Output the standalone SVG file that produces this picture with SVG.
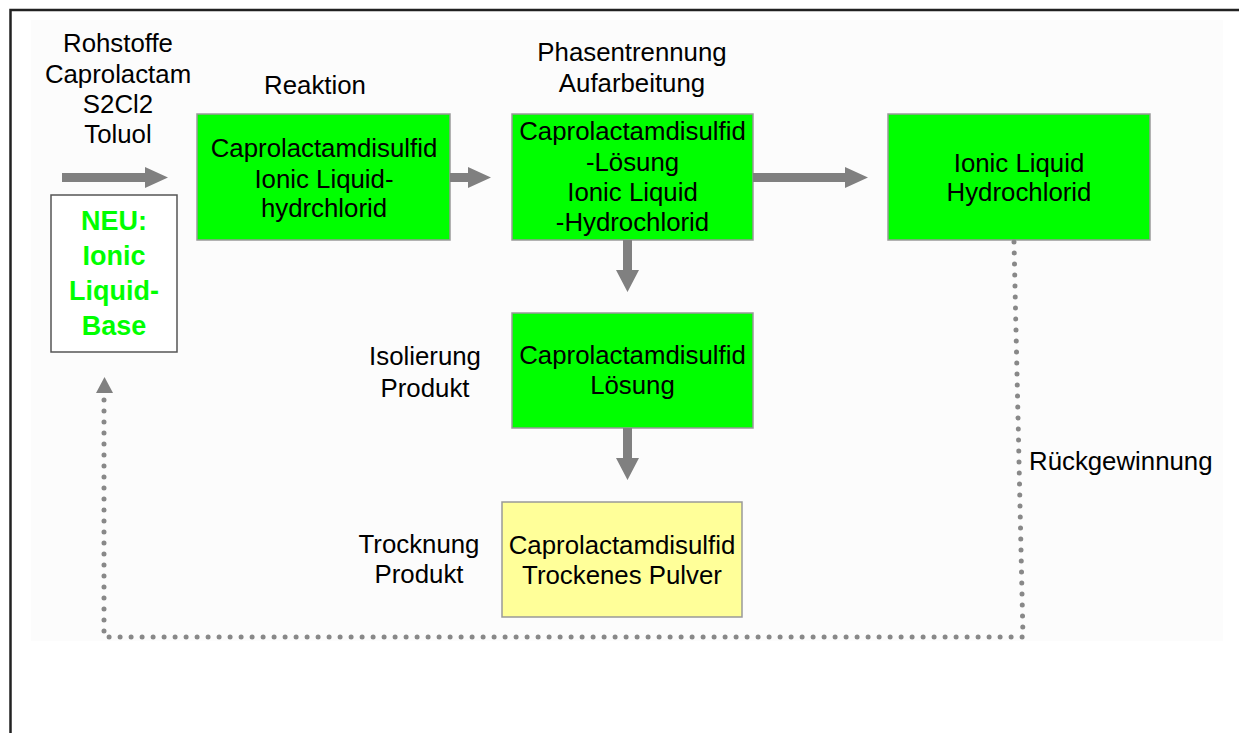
<svg xmlns="http://www.w3.org/2000/svg" width="1239" height="733" viewBox="0 0 1239 733">
<defs>
<style>
.t{font-family:"Liberation Sans",Arial,sans-serif;font-size:25.8px;fill:#000;text-anchor:middle}
.l{font-family:"Liberation Sans",Arial,sans-serif;font-size:25.8px;fill:#000}
.neu{font-family:"Liberation Sans",Arial,sans-serif;font-size:27px;font-weight:bold;fill:#00FF00;text-anchor:middle}
.g{fill:#00FF00;stroke:#999;stroke-width:1.5}
.y{fill:#FFFF99;stroke:#999;stroke-width:1.5}
.arr{fill:#808080}
.dot{fill:none;stroke:#888;stroke-width:5;stroke-linecap:round;stroke-dasharray:0 11}
</style>
</defs>
<rect x="0" y="0" width="1239" height="733" fill="#fff"/>
<rect x="31" y="20" width="1192" height="621" fill="#FCFCFC"/>
<path d="M10.5,733 V10 H1239" fill="none" stroke="#222" stroke-width="2.5"/>

<g id="labels">
<text class="t" x="118" y="52">Rohstoffe</text>
<text class="t" x="118" y="83">Caprolactam</text>
<text class="t" x="118" y="113">S2Cl2</text>
<text class="t" x="118" y="143">Toluol</text>
<text class="t" x="315" y="94">Reaktion</text>
<text class="t" x="632" y="61">Phasentrennung</text>
<text class="t" x="632" y="92">Aufarbeitung</text>
<text class="t" x="425" y="365">Isolierung</text>
<text class="t" x="425" y="397">Produkt</text>
<text class="t" x="419" y="553">Trocknung</text>
<text class="t" x="419" y="583">Produkt</text>
<text class="l" x="1029" y="470">Rückgewinnung</text>
</g>

<g id="node-neu">
<rect x="51" y="195" width="126" height="157" fill="#fff" stroke="#555" stroke-width="1.5"/>
<text class="neu" x="114" y="230">NEU:</text>
<text class="neu" x="114" y="265">Ionic</text>
<text class="neu" x="114" y="300">Liquid-</text>
<text class="neu" x="114" y="335">Base</text>
</g>

<g id="node-reaktion">
<rect class="g" x="197" y="114" width="253" height="126"/>
<text class="t" x="324" y="157">Caprolactamdisulfid</text>
<text class="t" x="324" y="188">Ionic Liquid-</text>
<text class="t" x="324" y="217">hydrchlorid</text>
</g>

<g id="node-phasentrennung">
<rect class="g" x="512" y="114" width="241" height="126"/>
<text class="t" x="632.5" y="140">Caprolactamdisulfid</text>
<text class="t" x="632.5" y="171">-Lösung</text>
<text class="t" x="632.5" y="201">Ionic Liquid</text>
<text class="t" x="632.5" y="231">-Hydrochlorid</text>
</g>

<g id="node-hydrochlorid">
<rect class="g" x="888" y="114" width="262" height="126"/>
<text class="t" x="1019" y="172">Ionic Liquid</text>
<text class="t" x="1019" y="201">Hydrochlorid</text>
</g>

<g id="node-isolierung">
<rect class="g" x="512" y="313" width="241" height="115"/>
<text class="t" x="632.5" y="364">Caprolactamdisulfid</text>
<text class="t" x="632.5" y="394">Lösung</text>
</g>

<g id="node-trocknung">
<rect class="y" x="502" y="502" width="240" height="115"/>
<text class="t" x="622" y="554">Caprolactamdisulfid</text>
<text class="t" x="622" y="584">Trockenes Pulver</text>
</g>

<g id="connectors">
<polygon class="arr" points="62,173 145,173 145,167 168,177.5 145,188 145,182 62,182"/>
<polygon class="arr" points="450,173 468,173 468,167 491,177.5 468,188 468,182 450,182"/>
<polygon class="arr" points="753,173 845,173 845,167 868,177.5 845,188 845,182 753,182"/>
<polygon class="arr" points="623,240 632,240 632,270 639,270 627.5,292 616,270 623,270"/>
<polygon class="arr" points="623,428 632,428 632,458 639,458 627.5,480 616,458 623,458"/>
<path class="dot" d="M1014,242 L1023,637 L104,637 L104,398"/>
<polygon class="arr" points="104.5,377 113,393 96,393"/>
</g>
</svg>
